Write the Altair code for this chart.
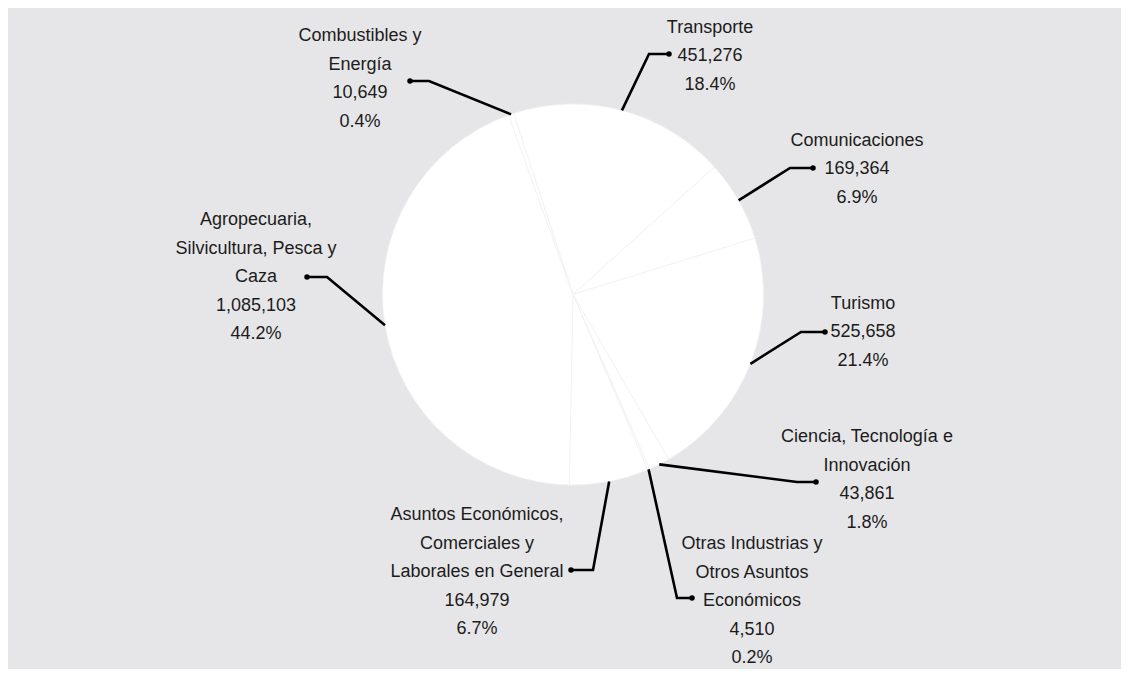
import math
import altair as alt
import pandas as pd

# ---------------- data ----------------
categories = [
    "Transporte",
    "Comunicaciones",
    "Turismo",
    "Ciencia, Tecnología e Innovación",
    "Otras Industrias y Otros Asuntos Económicos",
    "Asuntos Económicos, Comerciales y Laborales en General",
    "Agropecuaria, Silvicultura, Pesca y Caza",
    "Combustibles y Energía",
]
label_lines = [
    ["Transporte"],
    ["Comunicaciones"],
    ["Turismo"],
    ["Ciencia, Tecnología e", "Innovación"],
    ["Otras Industrias y", "Otros Asuntos", "Económicos"],
    ["Asuntos Económicos,", "Comerciales y", "Laborales en General"],
    ["Agropecuaria,", "Silvicultura, Pesca y", "Caza"],
    ["Combustibles y", "Energía"],
]
values = [451276, 169364, 525658, 43861, 4510, 164979, 1085103, 10649]

# ---------------- layout (page pixels) ----------------
W, H = 1113, 661
OFF = 8
CX, CY, R = 573, 294.5, 190.5
START_DEG = 341.8
LINE_H = 28.5
FONT = "Liberation Sans"

# elbow point, dot point, text centre x, text block centre y
elbows = [(649, 54), (790, 168), (801, 332), (797, 482), (677, 598), (593, 570), (327, 277), (429, 81)]
dots = [(669, 54), (813, 168), (825, 332), (816, 482), (692, 598), (571, 570), (307, 277), (410, 81)]
text_cx = [710, 857, 863, 867, 752, 477, 256, 360]
text_cy = [56, 169, 332, 480, 601, 572, 277, 79]

total = sum(values)
t0 = math.radians(START_DEG)

pie_df = pd.DataFrame({"cat": categories, "value": values, "ord": list(range(len(values)))})

line_rows, dot_rows, text_rows = [], [], []
cum = 0.0
for i, (cat, v) in enumerate(zip(categories, values)):
    mid = t0 + 2 * math.pi * (cum + v / 2) / total
    cum += v
    sx = CX + R * math.sin(mid)
    sy = CY - R * math.cos(mid)
    pts = [(sx, sy), elbows[i], dots[i]]
    for k, (px, py) in enumerate(pts):
        line_rows.append({"cat": cat, "step": k, "x": px - OFF, "y": py - OFF})
    dot_rows.append({"cat": cat, "x": dots[i][0] - OFF, "y": dots[i][1] - OFF})
    lines = label_lines[i] + [f"{v:,}", f"{100 * v / total:.1f}%"]
    n = len(lines)
    for j, t in enumerate(lines):
        text_rows.append({
            "t": t,
            "x": text_cx[i] - OFF,
            "y": text_cy[i] + (j - (n - 1) / 2) * LINE_H - OFF,
        })

lines_df = pd.DataFrame(line_rows)
dots_df = pd.DataFrame(dot_rows)
text_df = pd.DataFrame(text_rows)

xs = alt.Scale(domain=[0, W], range=[0, W], nice=False, zero=False)
ys = alt.Scale(domain=[0, H], range=[0, H], nice=False, zero=False)

pie = alt.Chart(pie_df).mark_arc(
    outerRadius=R, fill="white", stroke="#f1f1f1", strokeWidth=0.8
).encode(
    theta=alt.Theta("value:Q", stack=True,
                    scale=alt.Scale(range=[t0, t0 + 2 * math.pi])),
    order=alt.Order("ord:Q"),
    x=alt.value(CX - OFF),
    y=alt.value(CY - OFF),
)

leaders = alt.Chart(lines_df).mark_line(color="black", strokeWidth=2.6).encode(
    x=alt.X("x:Q", scale=xs, axis=None),
    y=alt.Y("y:Q", scale=ys, axis=None),
    detail="cat:N",
    order="step:Q",
)

pts = alt.Chart(dots_df).mark_circle(color="black", size=30, opacity=1).encode(
    x=alt.X("x:Q", scale=xs, axis=None),
    y=alt.Y("y:Q", scale=ys, axis=None),
)

labels = alt.Chart(text_df).mark_text(
    font=FONT, fontSize=18, color="#1c1c1c", align="center", baseline="middle"
).encode(
    x=alt.X("x:Q", scale=xs, axis=None),
    y=alt.Y("y:Q", scale=ys, axis=None),
    text="t:N",
)

chart = alt.layer(pie, leaders, pts, labels).properties(
    width=W, height=H, background="#e6e6e8", padding=0, autosize="none"
).configure_view(strokeWidth=0)

chart.save("out.html", embed_options={"renderer": "svg", "actions": False})
